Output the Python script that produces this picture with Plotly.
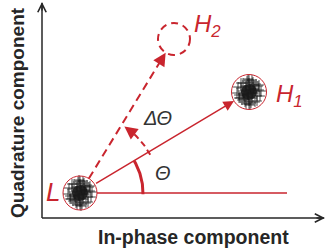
import numpy as np
import plotly.graph_objects as go

# ---------------- data ----------------
cluster_names = ["L", "H1", "H2"]
cluster_x = [38, 207, 132]          # in-phase
cluster_y = [25, 126, 179]          # quadrature
cluster_r = [17, 17.5, 16]
ref_line_end = 245                  # end of horizontal reference line
theta_arc_r = 63
dtheta_arc_r = 80

# hand-read noise-cloud offsets (same shape for the measured clusters)
offs_x = [0, 2, -2, 4, -4, 1, -1, 3, -3, 6, -6, 5, -5, 8, -8, 0, 0, 7, -7, 10,
          -10, 2, -2, 9, -9, 11, -11, 4, -4, 12, -12, 6, -6, 1, -1, 3, -3, 8, -8,
          5, -5, 0, 0, 10, -10, 2, -3, 4, -1]
offs_y = [0, 3, -2, -1, 2, 5, -5, -6, 6, 1, -2, 7, -7, -4, 4, 9, -9, 8, -8, 2,
          -3, -11, 11, 6, -6, -4, 5, 10, -10, 1, -1, -10, 9, -13, 13, 12, -12, -9,
          9, 3, -4, 12, -12, 7, -6, -1, 1, 2, -3]

axis_titles = ["In-phase component", "Quadrature component"]
x_axis_end = 283
y_axis_end = 216

RED = "#c9252e"
DARK = "#262626"
FONT = "Liberation Sans, Arial, sans-serif"

fig = go.Figure()

L = (cluster_x[0], cluster_y[0])
H1 = (cluster_x[1], cluster_y[1])
H2 = (cluster_x[2], cluster_y[2])
a1 = np.arctan2(H1[1] - L[1], H1[0] - L[0])
a2 = np.arctan2(H2[1] - L[1], H2[0] - L[0])
d1 = np.hypot(H1[0] - L[0], H1[1] - L[1])
d2 = np.hypot(H2[0] - L[0], H2[1] - L[1])
rL, rH1, rH2 = cluster_r

shapes = []
# axis lines
shapes.append(dict(type="line", xref="x", yref="y", x0=0, x1=x_axis_end - 1,
                   y0=0, y1=0, line=dict(color=DARK, width=1.5)))
shapes.append(dict(type="line", xref="x", yref="y", x0=0, x1=0,
                   y0=0, y1=y_axis_end - 1, line=dict(color=DARK, width=1.5)))
# cluster cores + circles
for i in range(3):
    cx, cy, r = cluster_x[i], cluster_y[i], cluster_r[i]
    if i < 2:
        shapes.append(dict(type="circle", xref="x", yref="y", layer="below",
                           x0=cx - 8, x1=cx + 8, y0=cy - 8, y1=cy + 8,
                           fillcolor="rgba(15,15,15,0.85)", line=dict(width=0)))
        shapes.append(dict(type="circle", xref="x", yref="y",
                           x0=cx - r, x1=cx + r, y0=cy - r, y1=cy + r,
                           line=dict(color=RED, width=1)))
    else:
        shapes.append(dict(type="circle", xref="x", yref="y",
                           x0=cx - r, x1=cx + r, y0=cy - r, y1=cy + r,
                           line=dict(color=RED, width=2, dash="7px,5px")))

# horizontal reference line
shapes.append(dict(type="line", xref="x", yref="y", x0=L[0] + rL, x1=ref_line_end,
                   y0=L[1], y1=L[1], line=dict(color=RED, width=1.5)))
fig.update_layout(shapes=shapes)

# noise clouds
for i in range(2):
    fig.add_trace(go.Scatter(
        x=[cluster_x[i] + o for o in offs_x],
        y=[cluster_y[i] + o for o in offs_y],
        mode="markers",
        marker=dict(symbol="cross-thin", size=7,
                    line=dict(width=1, color="rgba(25,25,25,0.8)")),
        hoverinfo="skip", showlegend=False))

# dashed line L -> H2
s2 = (L[0] + rL * np.cos(a2), L[1] + rL * np.sin(a2))
e2 = (L[0] + (d2 - rH2 - 4) * np.cos(a2), L[1] + (d2 - rH2 - 4) * np.sin(a2))
fig.add_trace(go.Scatter(x=[s2[0], e2[0]], y=[s2[1], e2[1]], mode="lines",
                         line=dict(color=RED, width=2, dash="8px,5px"),
                         hoverinfo="skip", showlegend=False))

# theta arc
t = np.linspace(-0.02, a1, 40)
fig.add_trace(go.Scatter(x=L[0] + theta_arc_r * np.cos(t),
                         y=L[1] + theta_arc_r * np.sin(t), mode="lines",
                         line=dict(color=RED, width=3), hoverinfo="skip",
                         showlegend=False))
# delta-theta arc
t2 = np.linspace(a1 - 0.04, a2 - 0.1, 40)
fig.add_trace(go.Scatter(x=L[0] + dtheta_arc_r * np.cos(t2),
                         y=L[1] + dtheta_arc_r * np.sin(t2), mode="lines",
                         line=dict(color=RED, width=2, dash="6px,4px"),
                         hoverinfo="skip", showlegend=False))

ann = []
# solid arrow L -> H1
s1 = (L[0] + rL * np.cos(a1), L[1] + rL * np.sin(a1))
e1 = (L[0] + (d1 - rH1) * np.cos(a1), L[1] + (d1 - rH1) * np.sin(a1))
ann.append(dict(x=e1[0], y=e1[1], ax=s1[0], ay=s1[1], xref="x", yref="y",
                axref="x", ayref="y", showarrow=True, arrowhead=2, arrowsize=1.4,
                arrowwidth=1.5, arrowcolor=RED, text=""))
# head of dashed arrow
tip2 = (L[0] + (d2 - rH2) * np.cos(a2), L[1] + (d2 - rH2) * np.sin(a2))
ann.append(dict(x=tip2[0], y=tip2[1], ax=tip2[0] - 12 * np.cos(a2),
                ay=tip2[1] - 12 * np.sin(a2), xref="x", yref="y", axref="x",
                ayref="y", showarrow=True, arrowhead=2, arrowsize=1.3,
                arrowwidth=2, arrowcolor=RED, text=""))
# head of delta-theta arc
ta = a2 - 0.04
tb = a2 - 0.16
ann.append(dict(x=L[0] + dtheta_arc_r * np.cos(ta), y=L[1] + dtheta_arc_r * np.sin(ta),
                ax=L[0] + dtheta_arc_r * np.cos(tb), ay=L[1] + dtheta_arc_r * np.sin(tb),
                xref="x", yref="y", axref="x", ayref="y", showarrow=True,
                arrowhead=2, arrowsize=1.3, arrowwidth=2, arrowcolor=RED, text=""))

# axis arrow heads (open chevrons)
ann.append(dict(x=x_axis_end, y=0, ax=x_axis_end - 10, ay=0, xref="x", yref="y",
                axref="x", ayref="y", showarrow=True, arrowhead=5, arrowsize=1.1,
                arrowwidth=1.5, arrowcolor=DARK, text=""))
ann.append(dict(x=0, y=y_axis_end, ax=0, ay=y_axis_end - 10, xref="x", yref="y",
                axref="x", ayref="y", showarrow=True, arrowhead=5, arrowsize=1.1,
                arrowwidth=1.5, arrowcolor=DARK, text=""))

# labels
def lab(x, y, text, size, color):
    return dict(x=x, y=y, xref="x", yref="y", text=text, showarrow=False,
                font=dict(family=FONT, size=size, color=color))

ann.append(lab(11, 26, "<i>L</i>", 26, RED))
ann.append(lab(247, 123, "<i>H</i><sub><i>1</i></sub>", 24, RED))
ann.append(lab(165, 193, "<i>H</i><sub><i>2</i></sub>", 24, RED))
ann.append(lab(115, 100, "<i>ΔΘ</i>", 20, "#333333"))
ann.append(lab(121, 45, "<i>Θ</i>", 20, "#333333"))

ann.append(dict(x=151, y=-19, xref="x", yref="y", text="<b>" + axis_titles[0] + "</b>",
                showarrow=False, font=dict(family=FONT, size=19.5, color=DARK)))
ann.append(dict(x=-25, y=105, xref="x", yref="y", text="<b>" + axis_titles[1] + "</b>",
                showarrow=False, textangle=-90,
                font=dict(family=FONT, size=19, color=DARK)))

fig.update_layout(
    annotations=ann,
    width=326, height=252,
    margin=dict(l=0, r=0, t=0, b=0),
    paper_bgcolor="white", plot_bgcolor="white",
    xaxis=dict(range=[-42, 284], visible=False, fixedrange=True),
    yaxis=dict(range=[-34, 218], visible=False, fixedrange=True),
    showlegend=False,
)

fig.write_html("out.html", config=dict(displayModeBar=False),
               post_script="document.body.style.margin='0px';document.body.style.overflow='hidden';")
